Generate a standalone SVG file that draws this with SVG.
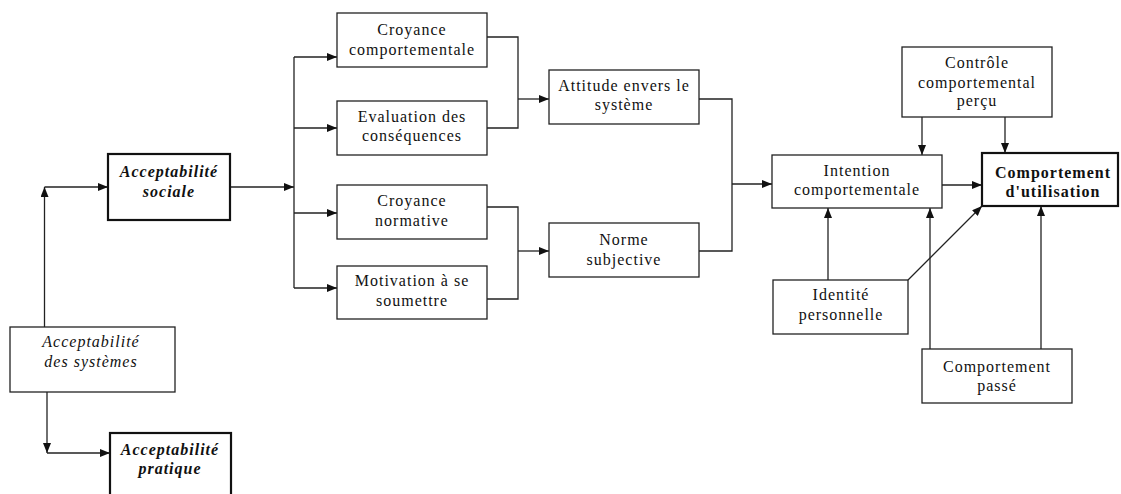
<svg xmlns="http://www.w3.org/2000/svg" width="1121" height="494" viewBox="0 0 1121 494">
  <defs>
    <marker id="arrow" viewBox="0 0 10 8" refX="10" refY="4" markerWidth="10" markerHeight="8" markerUnits="userSpaceOnUse" orient="auto">
      <path d="M0 0 L10 4 L0 8 Z" fill="#111"/>
    </marker>
    <style>
      .box { fill: #fff; stroke: #222; stroke-width: 1.3; }
      .box-strong { fill: #fff; stroke: #111; stroke-width: 2.2; }
      .lbl { font-family: "Liberation Serif", "Times New Roman", serif; font-size: 16px; letter-spacing: 1px; fill: #111; text-anchor: middle; }
      .it { font-style: italic; }
      .bd { font-weight: bold; }
      .wire { fill: none; stroke: #222; stroke-width: 1.3; }
      .arr { fill: none; stroke: #222; stroke-width: 1.3; marker-end: url(#arrow); }
    </style>
  </defs>
  <rect width="1121" height="494" fill="#fff"/>

  <!-- connectors -->
  <g id="connectors">
    <!-- system acceptability split -->
    <path class="arr" d="M44.5 327 V187"/>
    <path class="arr" d="M44.5 187 H108"/>
    <path class="arr" d="M47 392 V453"/>
    <path class="arr" d="M47 453 H110"/>
    <path class="arr" d="M230 187 H294"/>
    <!-- distribution bus -->
    <path class="wire" d="M294 57 V288"/>
    <path class="arr" d="M294 57 H337"/>
    <path class="arr" d="M294 128 H337"/>
    <path class="arr" d="M294 213 H337"/>
    <path class="arr" d="M294 288 H337"/>
    <!-- attitude branch -->
    <path class="wire" d="M487 37 H518 V128 H487"/>
    <path class="arr" d="M518 99 H549"/>
    <!-- norm branch -->
    <path class="wire" d="M487 207 H518 V299 H487"/>
    <path class="arr" d="M518 251 H549"/>
    <!-- merge into intention -->
    <path class="wire" d="M699 99 H732 V251 H699"/>
    <path class="arr" d="M732 184 H772"/>
    <path class="arr" d="M942 185 H982"/>
    <!-- perceived control -->
    <path class="arr" d="M922 117 V155"/>
    <path class="arr" d="M1005 117 V153"/>
    <!-- identity and past behaviour -->
    <path class="arr" d="M828 280 V208"/>
    <path class="arr" d="M908 280 L982 206"/>
    <path class="arr" d="M930 349 V208"/>
    <path class="arr" d="M1041 349 V206"/>
  </g>

  <g id="acceptabilite-sociale">
    <rect class="box-strong" x="108" y="154" width="122" height="66"/>
    <text class="lbl it bd" x="169" y="177">Acceptabilité</text>
    <text class="lbl it bd" x="169" y="197">sociale</text>
  </g>

  <g id="acceptabilite-systemes">
    <rect class="box" x="10" y="327" width="165" height="65"/>
    <text class="lbl it" x="91" y="347">Acceptabilité</text>
    <text class="lbl it" x="91" y="367">des systèmes</text>
  </g>

  <g id="acceptabilite-pratique">
    <rect class="box-strong" x="110" y="433" width="121" height="70"/>
    <text class="lbl it bd" x="170" y="455">Acceptabilité</text>
    <text class="lbl it bd" x="170" y="474">pratique</text>
  </g>

  <g id="croyance-comportementale">
    <rect class="box" x="337" y="13" width="150" height="54"/>
    <text class="lbl" x="412" y="35">Croyance</text>
    <text class="lbl" x="412" y="55">comportementale</text>
  </g>

  <g id="evaluation-consequences">
    <rect class="box" x="337" y="101" width="150" height="54"/>
    <text class="lbl" x="412" y="122">Evaluation des</text>
    <text class="lbl" x="412" y="141">conséquences</text>
  </g>

  <g id="croyance-normative">
    <rect class="box" x="337" y="185" width="150" height="54"/>
    <text class="lbl" x="412" y="206">Croyance</text>
    <text class="lbl" x="412" y="226">normative</text>
  </g>

  <g id="motivation-soumettre">
    <rect class="box" x="337" y="266" width="150" height="53"/>
    <text class="lbl" x="412" y="286">Motivation à se</text>
    <text class="lbl" x="412" y="306">soumettre</text>
  </g>

  <g id="attitude-systeme">
    <rect class="box" x="549" y="70" width="150" height="54"/>
    <text class="lbl" x="624" y="91">Attitude envers le</text>
    <text class="lbl" x="624" y="110">système</text>
  </g>

  <g id="norme-subjective">
    <rect class="box" x="549" y="223" width="150" height="54"/>
    <text class="lbl" x="624" y="245">Norme</text>
    <text class="lbl" x="624" y="265">subjective</text>
  </g>

  <g id="intention-comportementale">
    <rect class="box" x="772" y="155" width="170" height="53"/>
    <text class="lbl" x="857" y="176">Intention</text>
    <text class="lbl" x="857" y="195">comportementale</text>
  </g>

  <g id="controle-percu">
    <rect class="box" x="902" y="47" width="150" height="70"/>
    <text class="lbl" x="977" y="68">Contrôle</text>
    <text class="lbl" x="977" y="88">comportemental</text>
    <text class="lbl" x="977" y="106">perçu</text>
  </g>

  <g id="comportement-utilisation">
    <rect class="box-strong" x="982" y="153" width="136" height="53"/>
    <text class="lbl bd" x="1053" y="178">Comportement</text>
    <text class="lbl bd" x="1053" y="197">d'utilisation</text>
  </g>

  <g id="identite-personnelle">
    <rect class="box" x="773" y="280" width="135" height="54"/>
    <text class="lbl" x="841" y="300">Identité</text>
    <text class="lbl" x="841" y="320">personnelle</text>
  </g>

  <g id="comportement-passe">
    <rect class="box" x="922" y="349" width="150" height="54"/>
    <text class="lbl" x="997" y="372">Comportement</text>
    <text class="lbl" x="997" y="391">passé</text>
  </g>
</svg>
